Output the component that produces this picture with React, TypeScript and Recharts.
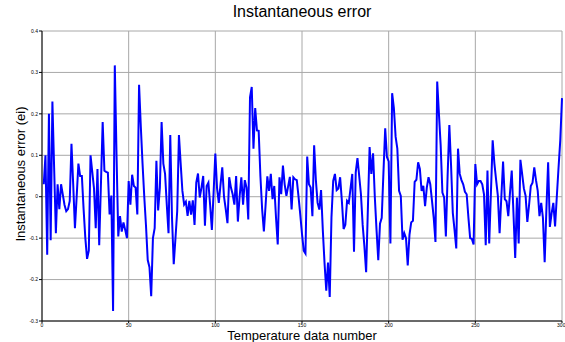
import { LineChart, Line, XAxis, YAxis, CartesianGrid } from 'recharts';

// values, samples 1..300
const errorValues: number[] = [
  0.03, 0.1, -0.14, 0.2, -0.105, 0.23, 0.07, -0.088, 0.03, -0.03,
  0.03, 0.005, -0.02, -0.035, -0.03, -0.01, 0.128, 0.03, -0.076, 0.0,
  0.08, 0.05, 0.05, -0.03, -0.1, -0.15, -0.13, 0.1, 0.06, 0.02,
  -0.076, 0.067, -0.117, 0.03, 0.18, 0.063, 0.06, 0.058, -0.043, 0.003,
  -0.276, 0.317, 0.1, -0.096, -0.047, -0.084, -0.062, -0.08, -0.1, 0.038,
  -0.019, 0.053, 0.026, 0.022, -0.043, 0.27, 0.17, 0.08, 0.0, -0.07,
  -0.153, -0.17, -0.24, -0.1, -0.076, 0.087, -0.033, 0.022, 0.18, 0.08,
  0.055, -0.02, -0.088, 0.149, -0.051, -0.163, -0.1, -0.035, 0.149, 0.08,
  0.014, -0.019, -0.012, -0.046, -0.01, -0.043, -0.009, -0.068, 0.034, 0.056,
  -0.002, 0.022, 0.05, -0.07, 0.026, 0.034, -0.02, -0.08, 0.01, 0.104,
  0.02, -0.015, 0.03, 0.071, 0.0, -0.03, -0.064, 0.047, 0.022, 0.006,
  -0.019, 0.05, -0.06, 0.0, 0.047, -0.019, 0.04, 0.022, -0.055, 0.24,
  0.265, 0.116, 0.214, 0.16, 0.159, 0.05, -0.03, -0.084, -0.02, 0.049,
  0.014, 0.055, -0.006, 0.026, -0.05, -0.115, 0.047, 0.006, 0.075, 0.03,
  0.002, 0.025, 0.048, -0.031, 0.047, 0.042, 0.04, 0.0, -0.043, -0.09,
  -0.13, -0.137, 0.097, 0.03, 0.022, -0.047, 0.124, 0.04, -0.015, -0.031,
  0.016, -0.08, -0.16, -0.227, -0.159, -0.242, -0.05, 0.038, 0.055, 0.016,
  0.02, 0.047, -0.01, -0.078, -0.068, -0.01, -0.015, 0.02, 0.055, -0.133,
  0.059, 0.093, 0.05, 0.006, -0.068, -0.12, -0.182, -0.03, 0.12, 0.055,
  0.105, 0.0, -0.08, -0.153, -0.065, -0.051, 0.06, 0.165, 0.096, 0.085,
  -0.113, 0.25, 0.214, 0.145, 0.116, 0.014, 0.002, -0.104, -0.088, -0.1,
  -0.166, -0.092, -0.062, -0.058, 0.036, 0.041, 0.083, 0.067, 0.014, 0.026,
  -0.023, 0.022, 0.047, 0.03, -0.01, -0.051, -0.109, 0.278, 0.2, 0.124,
  0.01, -0.002, -0.096, 0.05, 0.173, 0.075, -0.039, -0.08, -0.125, 0.116,
  0.055, 0.04, 0.03, 0.012, 0.006, -0.05, -0.1, -0.102, -0.115, 0.079,
  0.03, 0.038, 0.038, 0.03, 0.006, -0.117, 0.063, -0.113, 0.01, 0.136,
  0.08, 0.04, 0.002, -0.088, 0.0, 0.085, -0.006, -0.011, -0.047, 0.01,
  0.063, -0.04, -0.148, -0.002, -0.113, 0.089, 0.055, 0.02, 0.002, -0.061,
  -0.02, 0.026, 0.034, 0.071, 0.04, 0.014, -0.047, -0.015, -0.051, -0.158,
  -0.03, 0.083, -0.073, -0.04, -0.015, -0.072, 0.0, 0.07, 0.136, 0.238,
];

const xTicks = [0, 50, 100, 150, 200, 250, 300];
const yTicks = [-0.3, -0.2, -0.1, 0, 0.1, 0.2, 0.3, 0.4];

const data = errorValues.map((ei, i) => ({ n: i + 1, ei }));

const font = '"Liberation Sans", Arial, sans-serif';
const tickStyle = { fontSize: 5, fill: '#000', fontFamily: font };

export default function App() {
  return (
    <div style={{ position: 'absolute', left: 0, top: 0, width: 565, height: 342, background: '#fff', overflow: 'hidden' }}>
      <LineChart
        width={565}
        height={342}
        data={data}
        margin={{ top: 31, right: 3, bottom: 11, left: 0 }}
      >
        <CartesianGrid stroke="#a8a8a8" strokeWidth={1} />
        <XAxis
          dataKey="n"
          type="number"
          domain={[0, 300]}
          ticks={xTicks}
          height={10}
          stroke="#000"
          tickSize={2}
          tickMargin={0}
          tick={tickStyle}
        />
        <XAxis
          xAxisId="top"
          dataKey="n"
          type="number"
          orientation="top"
          domain={[0, 300]}
          ticks={xTicks}
          height={0}
          stroke="#000"
          tick={false}
          tickSize={-3}
        />
        <YAxis
          type="number"
          domain={[-0.3, 0.4]}
          ticks={yTicks}
          width={42}
          stroke="#000"
          tickSize={3}
          tickMargin={1}
          interval={0}
          tick={tickStyle}
          tickFormatter={(v: number) => (v === 0 ? '0' : String(Math.round(v * 10) / 10))}
        />
        <YAxis
          yAxisId="right"
          orientation="right"
          type="number"
          domain={[-0.3, 0.4]}
          ticks={yTicks}
          width={0}
          stroke="#000"
          tick={false}
          tickSize={-3}
        />
        <Line
          type="linear"
          dataKey="ei"
          stroke="#0000ff"
          strokeWidth={2}
          dot={false}
          isAnimationActive={false}
        />
      </LineChart>
      <div
        style={{
          position: 'absolute',
          left: 42,
          width: 520,
          top: 4,
          textAlign: 'center',
          fontFamily: font,
          fontSize: 16,
          lineHeight: 1,
          color: '#000',
          whiteSpace: 'nowrap',
        }}
      >
        Instantaneous error
      </div>
      <div
        style={{
          position: 'absolute',
          left: 42,
          width: 520,
          top: 329,
          height: 13,
          textAlign: 'center',
          fontFamily: font,
          fontSize: 13,
          lineHeight: '13px',
          color: '#000',
          whiteSpace: 'nowrap',
        }}
      >
        Temperature data number
      </div>
      <div
        style={{
          position: 'absolute',
          left: 21 - 100,
          top: 174 - 7,
          width: 200,
          height: 14,
          textAlign: 'center',
          fontFamily: font,
          fontSize: 13,
          lineHeight: '14px',
          color: '#000',
          whiteSpace: 'nowrap',
          transform: 'rotate(-90deg)',
        }}
      >
        Instantaneous error (ei)
      </div>
    </div>
  );
}
